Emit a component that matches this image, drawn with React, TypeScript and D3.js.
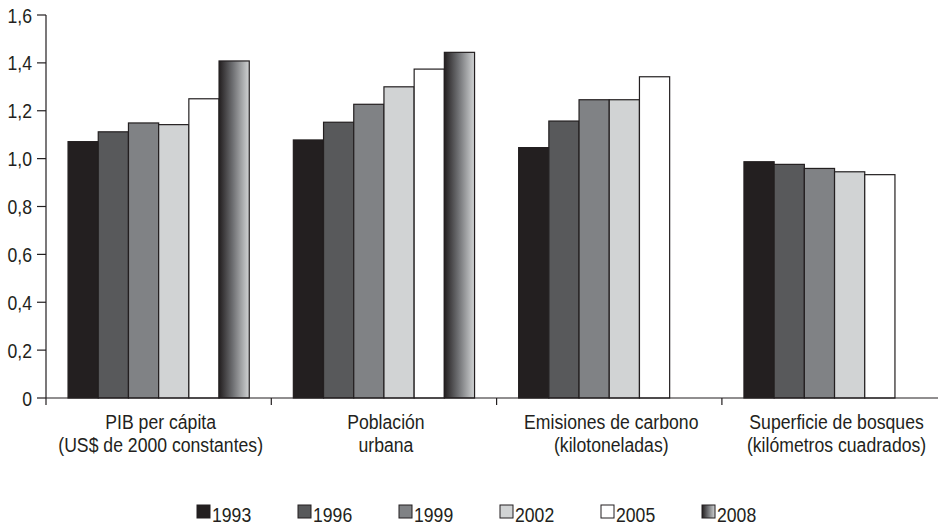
import React from "react";
import * as d3 from "d3";

const categories = [
  ["PIB per cápita", "(US$ de 2000 constantes)"],
  ["Población", "urbana"],
  ["Emisiones de carbono", "(kilotoneladas)"],
  ["Superficie de bosques", "(kilómetros cuadrados)"],
];
const years = ["1993", "1996", "1999", "2002", "2005", "2008"];
const v1993 = [1.071, 1.078, 1.046, 0.987];
const v1996 = [1.112, 1.152, 1.157, 0.976];
const v1999 = [1.149, 1.227, 1.246, 0.959];
const v2002 = [1.142, 1.3, 1.246, 0.945];
const v2005 = [1.25, 1.374, 1.342, 0.933];
const v2008: (number | null)[] = [1.408, 1.444, null, null];
const series = [v1993, v1996, v1999, v2002, v2005, v2008];
const yTicks = [0, 0.2, 0.4, 0.6, 0.8, 1.0, 1.2, 1.4, 1.6];

const fills = ["#231f20", "#58595b", "#808285", "#d1d3d4", "#ffffff", "url(#grad2008)"];
const FONT = "'Liberation Sans', Arial, sans-serif";
const FS = 21;
const SX = 0.84;

function T({ x, y, anchor = "start", children }: { x: number; y: number; anchor?: string; children: React.ReactNode }) {
  return (
    <text
      transform={`translate(${x},${y}) scale(${SX},1)`}
      textAnchor={anchor as any}
      fontFamily={FONT}
      fontSize={FS}
      fill="#231f20"
    >
      {children}
    </text>
  );
}

export default function App() {
  const W = 938, H = 527;
  const x0 = 46;
  const step = 225.3;
  const xBand = d3
    .scaleBand<number>()
    .domain(d3.range(categories.length))
    .range([x0, x0 + step * categories.length])
    .padding(0);
  const xInner = d3
    .scaleBand<string>()
    .domain(years)
    .range([0, xBand.bandwidth()])
    .paddingInner(0)
    .paddingOuter(0.73);
  const y = d3.scaleLinear().domain([0, 1.6]).range([398, 15]);
  const fmt = (v: number) => (v === 0 ? "0" : d3.format(".1f")(v).replace(".", ","));

  return (
    <div style={{ position: "absolute", left: 0, top: 0 }}>
      <svg width={W} height={H} style={{ display: "block", background: "#fff" }}>
        <defs>
          <linearGradient id="grad2008" x1="0" x2="1" y1="0" y2="0">
            <stop offset="0" stopColor="#231f20" />
            <stop offset="0.45" stopColor="#6d6e71" />
            <stop offset="1" stopColor="#d1d3d4" />
          </linearGradient>
        </defs>
        {categories.map((_, ci) => (
          <g key={ci} transform={`translate(${xBand(ci)},0)`}>
            {series.map((s, si) => {
              const v = s[ci];
              if (v == null) return null;
              return (
                <rect
                  key={si}
                  x={xInner(years[si])}
                  y={y(v)}
                  width={xInner.bandwidth()}
                  height={y(0) - y(v)}
                  fill={fills[si]}
                  stroke="#231f20"
                  strokeWidth={1.2}
                />
              );
            })}
          </g>
        ))}
        <line x1={x0} x2={x0} y1={y(1.6)} y2={y(0) + 7} stroke="#231f20" strokeWidth={1.2} />
        {yTicks.map((t) => (
          <g key={t}>
            <line x1={x0 - 9} x2={x0} y1={y(t)} y2={y(t)} stroke="#231f20" strokeWidth={1.2} />
            <T x={32} y={y(t) + 7.5} anchor="end">
              {fmt(t)}
            </T>
          </g>
        ))}
        <line x1={x0} x2={x0 + step * categories.length} y1={y(0)} y2={y(0)} stroke="#231f20" strokeWidth={1.2} />
        {d3.range(1, categories.length).map((i) => (
          <line
            key={i}
            x1={xBand(i)}
            x2={xBand(i)}
            y1={y(0)}
            y2={y(0) + 7}
            stroke="#231f20"
            strokeWidth={1.2}
          />
        ))}
        {categories.map((lines, ci) =>
          lines.map((l, li) => (
            <T key={`${ci}-${li}`} x={(xBand(ci) as number) + xBand.bandwidth() / 2 + 2} y={429 + li * 23} anchor="middle">
              {l}
            </T>
          ))
        )}
        {years.map((yr, i) => {
          const lx = 197 + i * 101;
          return (
            <g key={yr}>
              <rect x={lx} y={505} width={13} height={13} fill={fills[i]} stroke="#231f20" strokeWidth={1} />
              <T x={lx + 15} y={522}>
                {yr}
              </T>
            </g>
          );
        })}
      </svg>
    </div>
  );
}
